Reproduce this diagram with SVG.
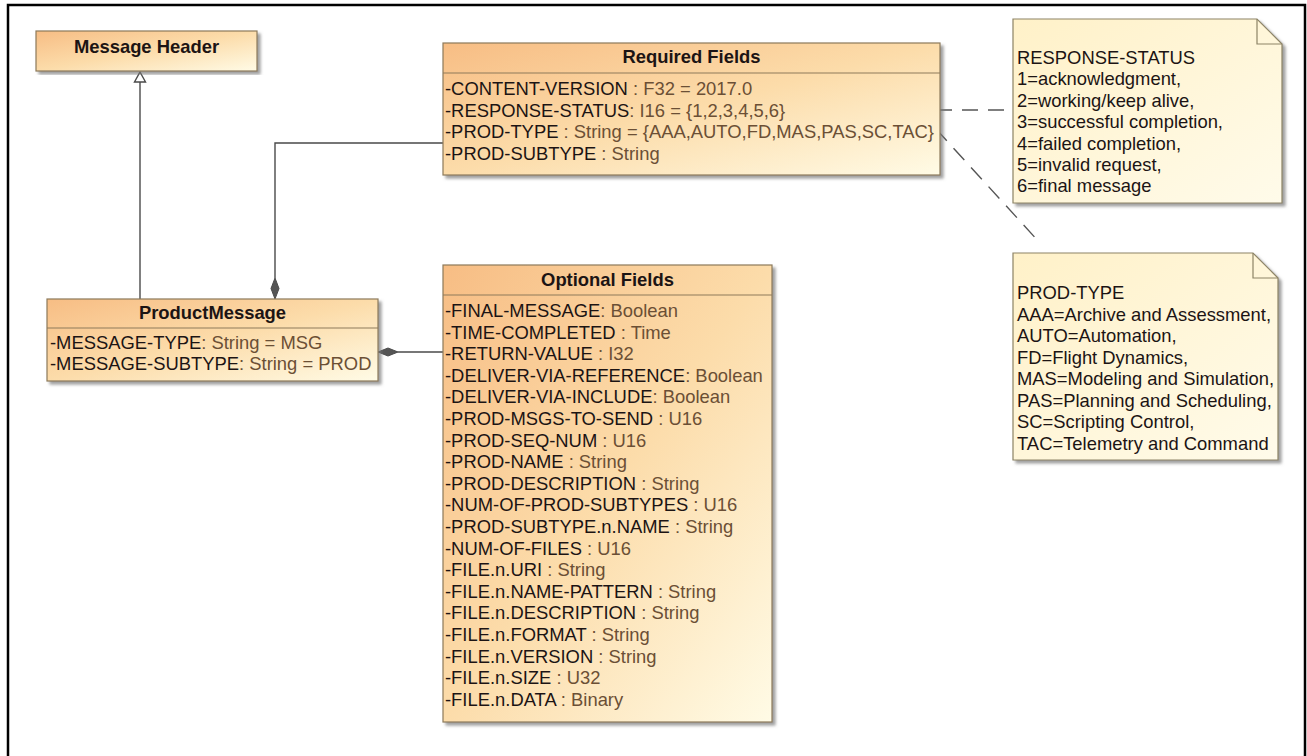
<svg xmlns="http://www.w3.org/2000/svg" width="1307" height="756" viewBox="0 0 1307 756">
<defs>
<linearGradient id="cls" x1="0" y1="0" x2="1" y2="1">
<stop offset="0" stop-color="#f7bd84"/>
<stop offset="0.5" stop-color="#fcdcaa"/>
<stop offset="1" stop-color="#fffbe6"/>
</linearGradient>
<linearGradient id="note" x1="0" y1="0" x2="1" y2="1">
<stop offset="0" stop-color="#fff1c8"/>
<stop offset="1" stop-color="#fffbea"/>
</linearGradient>
<filter id="sh" x="-5%" y="-5%" width="115%" height="115%">
<feDropShadow dx="3" dy="3" stdDeviation="1.5" flood-color="#777" flood-opacity="0.7"/>
</filter>
</defs>
<style>
text{font-family:"Liberation Sans",Arial,sans-serif;font-size:18.4px;fill:#1c1414}
.t{font-weight:bold;text-anchor:middle}
.ty{fill:#6b4f35}
.box{fill:url(#cls);stroke:#8d7a5a;stroke-width:1.2;filter:url(#sh)}
.div{stroke:#8d7a5a;stroke-width:1.2}
.nt{fill:url(#note);stroke:#8d8466;stroke-width:1.2;filter:url(#sh)}
.fold{fill:none;stroke:#8d8466;stroke-width:1.2}
.ln{fill:none;stroke:#4a4a4a;stroke-width:1.4}
.dash{fill:none;stroke:#555;stroke-width:1.4;stroke-dasharray:16 10}
</style>
<rect width="1307" height="756" fill="#fff"/>
<path d="M8,760 V5 H1305 V760" fill="none" stroke="#000" stroke-width="2.5"/>

<g id="connectors">
<line class="ln" x1="140" y1="82" x2="140" y2="299"/>
<polygon points="140,72 145.5,82 134.5,82" fill="#fff" stroke="#4a4a4a" stroke-width="1.4"/>
<polyline class="ln" points="443,143 275,143 275,278"/>
<polygon points="275,278 279,288.5 275,299 271,288.5" fill="#555" stroke="#4a4a4a" stroke-width="1"/>
<line class="ln" x1="398" y1="352" x2="443" y2="352"/>
<polygon points="378,352 388,348 398,352 388,356" fill="#555" stroke="#4a4a4a" stroke-width="1"/>
<circle cx="933" cy="110" r="3" fill="none" stroke="#777" stroke-width="1.2"/>
<line class="dash" x1="936" y1="110" x2="1013" y2="110"/>
<line class="dash" x1="936" y1="129" x2="1040" y2="243"/>
</g>

<g id="message-header">
<rect class="box" x="36" y="31" width="221" height="40"/>
<text class="t" x="146.5" y="53">Message Header</text>
</g>

<g id="required-fields">
<rect class="box" x="443" y="43" width="497" height="132"/>
<line class="div" x1="443" y1="73" x2="940" y2="73"/>
<text class="t" x="691.5" y="63">Required Fields</text>
<text x="445" y="95">-CONTENT-VERSION<tspan class="ty"> : F32 = 2017.0</tspan></text>
<text x="445" y="116.5">-RESPONSE-STATUS<tspan class="ty">: I16 = {1,2,3,4,5,6}</tspan></text>
<text x="445" y="138">-PROD-TYPE<tspan class="ty"> : String = {AAA,AUTO,FD,MAS,PAS,SC,TAC}</tspan></text>
<text x="445" y="159.5">-PROD-SUBTYPE<tspan class="ty"> : String</tspan></text>
</g>

<g id="product-message">
<rect class="box" x="47" y="299" width="331" height="82"/>
<line class="div" x1="47" y1="328" x2="378" y2="328"/>
<text class="t" x="212.5" y="319">ProductMessage</text>
<text x="50" y="349">-MESSAGE-TYPE<tspan class="ty">: String = MSG</tspan></text>
<text x="50" y="370">-MESSAGE-SUBTYPE<tspan class="ty">: String = PROD</tspan></text>
</g>

<g id="optional-fields">
<rect class="box" x="443" y="265" width="329" height="457"/>
<line class="div" x1="443" y1="295" x2="772" y2="295"/>
<text class="t" x="607.5" y="286">Optional Fields</text>
<text x="445" y="317">-FINAL-MESSAGE<tspan class="ty">: Boolean</tspan></text>
<text x="445" y="338.6">-TIME-COMPLETED<tspan class="ty"> : Time</tspan></text>
<text x="445" y="360.2">-RETURN-VALUE<tspan class="ty"> : I32</tspan></text>
<text x="445" y="381.8">-DELIVER-VIA-REFERENCE<tspan class="ty">: Boolean</tspan></text>
<text x="445" y="403.4">-DELIVER-VIA-INCLUDE<tspan class="ty">: Boolean</tspan></text>
<text x="445" y="425">-PROD-MSGS-TO-SEND<tspan class="ty"> : U16</tspan></text>
<text x="445" y="446.6">-PROD-SEQ-NUM<tspan class="ty"> : U16</tspan></text>
<text x="445" y="468.2">-PROD-NAME<tspan class="ty"> : String</tspan></text>
<text x="445" y="489.8">-PROD-DESCRIPTION<tspan class="ty"> : String</tspan></text>
<text x="445" y="511.4">-NUM-OF-PROD-SUBTYPES<tspan class="ty"> : U16</tspan></text>
<text x="445" y="533">-PROD-SUBTYPE.n.NAME<tspan class="ty"> : String</tspan></text>
<text x="445" y="554.6">-NUM-OF-FILES<tspan class="ty"> : U16</tspan></text>
<text x="445" y="576.2">-FILE.n.URI<tspan class="ty"> : String</tspan></text>
<text x="445" y="597.8">-FILE.n.NAME-PATTERN<tspan class="ty"> : String</tspan></text>
<text x="445" y="619.4">-FILE.n.DESCRIPTION<tspan class="ty"> : String</tspan></text>
<text x="445" y="641">-FILE.n.FORMAT<tspan class="ty"> : String</tspan></text>
<text x="445" y="662.6">-FILE.n.VERSION<tspan class="ty"> : String</tspan></text>
<text x="445" y="684.2">-FILE.n.SIZE<tspan class="ty"> : U32</tspan></text>
<text x="445" y="705.8">-FILE.n.DATA<tspan class="ty"> : Binary</tspan></text>
</g>

<g id="note-response-status">
<path class="nt" d="M1013,19 H1257 L1282,44 V203 H1013 Z"/>
<path class="fold" d="M1257,19 V44 H1282"/>
<text x="1017" y="64">RESPONSE-STATUS</text>
<text x="1017" y="85.4">1=acknowledgment,</text>
<text x="1017" y="106.8">2=working/keep alive,</text>
<text x="1017" y="128.2">3=successful completion,</text>
<text x="1017" y="149.6">4=failed completion,</text>
<text x="1017" y="171">5=invalid request,</text>
<text x="1017" y="192.4">6=final message</text>
</g>

<g id="note-prod-type">
<path class="nt" d="M1013,253 H1253 L1278,278 V460 H1013 Z"/>
<path class="fold" d="M1253,253 V278 H1278"/>
<text x="1017" y="299">PROD-TYPE</text>
<text x="1017" y="320.5">AAA=Archive and Assessment,</text>
<text x="1017" y="342">AUTO=Automation,</text>
<text x="1017" y="363.5">FD=Flight Dynamics,</text>
<text x="1017" y="385">MAS=Modeling and Simulation,</text>
<text x="1017" y="406.5">PAS=Planning and Scheduling,</text>
<text x="1017" y="428">SC=Scripting Control,</text>
<text x="1017" y="449.5">TAC=Telemetry and Command</text>
</g>
</svg>
